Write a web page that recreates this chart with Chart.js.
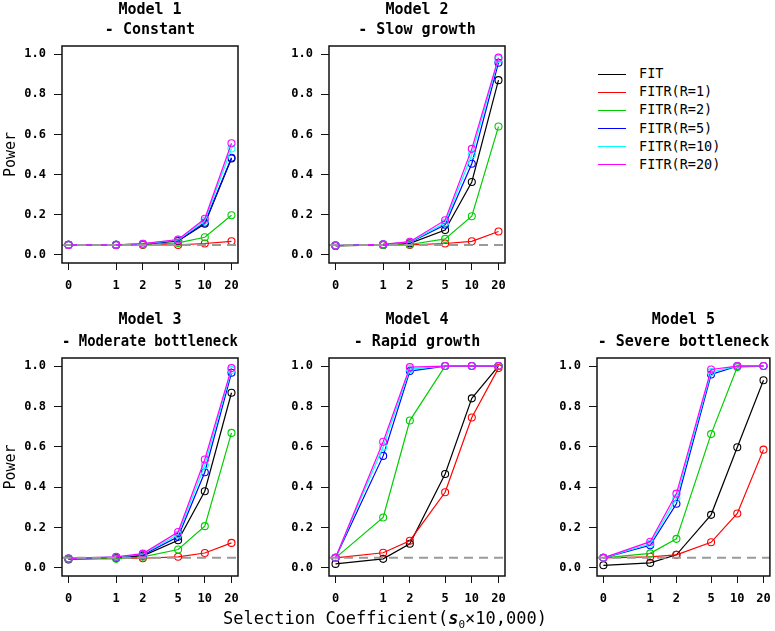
<!DOCTYPE html>
<html lang="en">
<head>
    <meta charset="UTF-8">
    <title>Power by model</title>
    <style>
        body {
            margin: 0;
            background: #fff;
        }
        #page {
            position: relative;
            width: 775px;
            height: 631px;
            overflow: hidden;
            font-family: "DejaVu Sans Mono", monospace;
            color: #000;
        }
        #page canvas {
            position: absolute;
        }
        .legend {
            position: absolute;
            left: 598px;
            top: 64px;
        }
        .legend div {
            height: 18.2px;
            line-height: 18.2px;
            font-size: 13.5px;
            white-space: nowrap;
        }
        .legend span {
            display: inline-block;
            width: 28px;
            height: 0;
            border-top: 1.5px solid;
            vertical-align: middle;
            margin-right: 13px;
        }
        .xlabel {
            position: absolute;
            left: 0;
            width: 770px;
            top: 608px;
            text-align: center;
            font-size: 17px;
            white-space: nowrap;
        }
        .xlabel i {
            font-weight: bold;
        }
    </style>
</head>
<body>
    <div id="page">
        <canvas id="m1"></canvas>
        <canvas id="m2"></canvas>
        <canvas id="m3"></canvas>
        <canvas id="m4"></canvas>
        <canvas id="m5"></canvas>
        <div class="legend" id="legend"></div>
        <div class="xlabel">Selection Coefficient(<i>s</i><sub style="font-size:11px">0</sub>×10,000)</div>
    </div>

    <script src="https://cdn.jsdelivr.net/npm/chart.js"></script>
    <script>
        // selection coefficients (x categories), 0 is drawn left of 1 on the log axis
        const sValues = [0, 1, 2, 5, 10, 20];
        const yTicks = [0, 0.2, 0.4, 0.6, 0.8, 1.0];
        const alphaLevel = 0.05;

        const seriesNames = ['FIT', 'FITR(R=1)', 'FITR(R=2)', 'FITR(R=5)', 'FITR(R=10)', 'FITR(R=20)'];
        const seriesColors = ['#000000', '#FF0000', '#00CD00', '#0000FF', '#00FFFF', '#FF00FF'];

        // rows: FIT, R=1, R=2, R=5, R=10, R=20
        const model1Power = [
            [0.05, 0.05, 0.053, 0.07, 0.155, 0.48],
            [0.05, 0.05, 0.05, 0.05, 0.057, 0.068],
            [0.05, 0.05, 0.052, 0.06, 0.088, 0.198],
            [0.05, 0.05, 0.054, 0.072, 0.16, 0.484],
            [0.05, 0.05, 0.055, 0.075, 0.17, 0.53],
            [0.05, 0.05, 0.056, 0.077, 0.18, 0.556]
        ];
        const model2Power = [
            [0.045, 0.05, 0.058, 0.124, 0.363, 0.87],
            [0.047, 0.05, 0.05, 0.057, 0.068, 0.117],
            [0.047, 0.05, 0.052, 0.08, 0.193, 0.639],
            [0.047, 0.053, 0.062, 0.15, 0.454, 0.957],
            [0.047, 0.053, 0.064, 0.16, 0.50, 0.975],
            [0.047, 0.053, 0.066, 0.173, 0.528, 0.982]
        ];
        const model3Power = [
            [0.042, 0.05, 0.06, 0.137, 0.38, 0.868],
            [0.045, 0.05, 0.048, 0.055, 0.074, 0.124],
            [0.045, 0.045, 0.055, 0.091, 0.207, 0.669],
            [0.047, 0.053, 0.065, 0.154, 0.474, 0.967],
            [0.047, 0.054, 0.068, 0.165, 0.51, 0.98],
            [0.047, 0.055, 0.071, 0.178, 0.537, 0.99]
        ];
        const model4Power = [
            [0.02, 0.045, 0.12, 0.465, 0.84, 1.0],
            [0.05, 0.075, 0.135, 0.375, 0.745, 0.99],
            [0.05, 0.25, 0.73, 1.0, 1.0, 1.0],
            [0.05, 0.555, 0.975, 1.0, 1.0, 1.0],
            [0.05, 0.60, 0.985, 1.0, 1.0, 1.0],
            [0.05, 0.625, 0.995, 1.0, 1.0, 1.0]
        ];
        const model5Power = [
            [0.013, 0.025, 0.065, 0.263, 0.598, 0.93],
            [0.05, 0.055, 0.065, 0.127, 0.27, 0.586],
            [0.05, 0.072, 0.144, 0.663, 0.995, 1.0],
            [0.05, 0.112, 0.318, 0.958, 1.0, 1.0],
            [0.05, 0.12, 0.345, 0.97, 1.0, 1.0],
            [0.05, 0.13, 0.368, 0.983, 1.0, 1.0]
        ];

        const ZERO_AT = 0.29;
        const xPos = s => Math.log10(s === 0 ? ZERO_AT : s);
        const xLo = xPos(sValues[0]), xHi = xPos(sValues[sValues.length - 1]);
        const xPad = (xHi - xLo) * 0.04;

        const MONO = '"DejaVu Sans Mono", monospace';

        // box around the plot region + dashed 5% line
        const framePlugin = {
            id: 'frame',
            afterDatasetsDraw(chart) {
                const ctx = chart.ctx, a = chart.chartArea;
                const y = chart.scales.y.getPixelForValue(alphaLevel);
                ctx.save();
                ctx.strokeStyle = '#9a9a9a';
                ctx.lineWidth = 2;
                ctx.setLineDash([9, 6]);
                ctx.beginPath();
                ctx.moveTo(a.left, y);
                ctx.lineTo(a.right, y);
                ctx.stroke();
                ctx.restore();
            },
            afterDraw(chart) {
                const ctx = chart.ctx, a = chart.chartArea;
                ctx.save();
                ctx.strokeStyle = '#111';
                ctx.lineWidth = 1.5;
                ctx.strokeRect(a.left, a.top, a.right - a.left, a.bottom - a.top);
                ctx.restore();
            }
        };

        function makeChart(id, titleLines, power, pos) {
            const canvas = document.getElementById(id);
            canvas.width = pos.w;
            canvas.height = pos.h;
            canvas.style.left = pos.left + 'px';
            canvas.style.top = pos.top + 'px';

            const datasets = power.map((vals, i) => ({
                label: seriesNames[i],
                data: vals.map((v, j) => ({ x: xPos(sValues[j]), y: v })),
                borderColor: seriesColors[i],
                borderWidth: 1.2,
                pointRadius: 3.5,
                pointBorderWidth: 1.1,
                pointBackgroundColor: 'rgba(0,0,0,0)',
                pointBorderColor: seriesColors[i],
                order: power.length - i
            }));

            new Chart(canvas, {
                type: 'line',
                data: { datasets },
                plugins: [framePlugin],
                options: {
                    responsive: false,
                    animation: false,
                    layout: { padding: { left: 0, right: pos.padR, top: 0, bottom: 0 } },
                    plugins: {
                        legend: { display: false },
                        tooltip: { enabled: false },
                        title: {
                            display: true,
                            fullSize: false,
                            text: titleLines,
                            color: '#000',
                            font: { family: MONO, size: 15, weight: 'bold', lineHeight: pos.titleLH + 'px' },
                            padding: { top: 0, bottom: pos.titlePad }
                        }
                    },
                    scales: {
                        x: {
                            type: 'linear',
                            min: xLo - xPad,
                            max: xHi + xPad,
                            afterBuildTicks: scale => { scale.ticks = sValues.map(s => ({ value: xPos(s) })); },
                            afterFit: scale => {
                                scale.height = 40;
                                scale.paddingLeft = 0;
                                scale.paddingRight = 0;
                            },
                            ticks: {
                                autoSkip: false,
                                maxRotation: 0,
                                padding: 9,
                                color: '#000',
                                font: { family: MONO, size: 12, weight: 'bold' },
                                callback: (v, i) => String(sValues[i])
                            },
                            grid: { drawOnChartArea: false, tickLength: 7, color: '#111' },
                            border: { display: false }
                        },
                        y: {
                            type: 'linear',
                            min: -0.04,
                            max: 1.04,
                            afterBuildTicks: scale => { scale.ticks = yTicks.map(v => ({ value: v })); },
                            afterFit: scale => {
                                scale.width = pos.yW;
                                scale.paddingTop = 0;
                                scale.paddingBottom = 0;
                            },
                            ticks: {
                                padding: 8,
                                color: '#000',
                                font: { family: MONO, size: 12, weight: 'bold' },
                                callback: v => v.toFixed(1)
                            },
                            grid: { drawOnChartArea: false, tickLength: 8, color: '#111' },
                            border: { display: false },
                            title: {
                                display: pos.yTitle,
                                text: 'Power',
                                color: '#000',
                                font: { family: MONO, size: 15 },
                                padding: { top: 2, bottom: 0 }
                            }
                        }
                    }
                }
            });
        }

        makeChart('m1', ['Model 1', '- Constant'], model1Power,
            { left: 0, top: 0, w: 244, h: 303, yW: 62, padR: 6, yTitle: true, titleLH: 20, titlePad: 6 });
        makeChart('m2', ['Model 2', '- Slow growth'], model2Power,
            { left: 279, top: 0, w: 232, h: 303, yW: 50, padR: 6, yTitle: false, titleLH: 20, titlePad: 6 });
        makeChart('m3', ['Model 3', '- Moderate bottleneck'], model3Power,
            { left: 0, top: 309, w: 244, h: 307, yW: 62, padR: 6, yTitle: true, titleLH: 22, titlePad: 5 });
        makeChart('m4', ['Model 4', '- Rapid growth'], model4Power,
            { left: 279, top: 309, w: 232, h: 307, yW: 50, padR: 6, yTitle: false, titleLH: 22, titlePad: 5 });
        makeChart('m5', ['Model 5', '- Severe bottleneck'], model5Power,
            { left: 547, top: 309, w: 228, h: 307, yW: 50, padR: 2, yTitle: false, titleLH: 22, titlePad: 5 });

        const legend = document.getElementById('legend');
        seriesNames.forEach((name, i) => {
            const row = document.createElement('div');
            row.innerHTML = '<span style="border-color:' + seriesColors[i] + '"></span>' + name;
            legend.appendChild(row);
        });
    </script>
</body>
</html>
